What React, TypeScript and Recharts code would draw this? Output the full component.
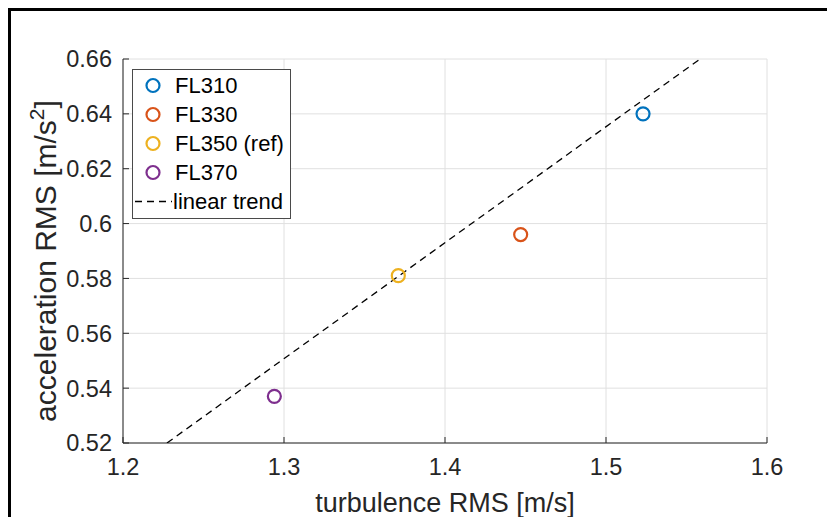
import { ScatterChart, Scatter, XAxis, YAxis, CartesianGrid, Legend } from "recharts";

const xTicks = [1.2, 1.3, 1.4, 1.5, 1.6];
const yTicks = [0.52, 0.54, 0.56, 0.58, 0.6, 0.62, 0.64, 0.66];

const seriesNames = ["FL310", "FL330", "FL350 (ref)", "FL370"];
const seriesColors = ["#0072BD", "#D95319", "#EDB120", "#7E2F8E"];
const turbulenceRms = [1.523, 1.447, 1.371, 1.294];
const accelerationRms = [0.64, 0.596, 0.581, 0.537];

const trendX = [1.2273, 1.5584];
const trendY = [0.52, 0.66];

const FONT = "'Liberation Sans', Arial, sans-serif";
const AXIS = "#262626";
const TICK = 6;

const series = seriesNames.map((name, i) => ({
  name,
  color: seriesColors[i],
  data: [{ x: turbulenceRms[i], y: accelerationRms[i] }],
}));
const trendData = trendX.map((x, i) => ({ x, y: trendY[i] }));

const ring = (color: string) => (p: any) => (
  <circle cx={p.cx} cy={p.cy} r={6.5} fill="none" stroke={color} strokeWidth={2.2} />
);

const BottomTick = (p: any) => (
  <g>
    <line x1={p.x} x2={p.x} y1={p.y} y2={p.y - TICK} stroke={AXIS} />
    <text x={p.x} y={p.y + 32} textAnchor="middle" fontSize={23.5} fill={AXIS} fontFamily={FONT}>
      {p.payload.value}
    </text>
  </g>
);

const LeftTick = (p: any) => (
  <g>
    <line x1={p.x} x2={p.x + TICK} y1={p.y} y2={p.y} stroke={AXIS} />
    <text x={p.x - 11} y={p.y} dy="0.36em" textAnchor="end" fontSize={23.5} fill={AXIS} fontFamily={FONT}>
      {p.payload.value}
    </text>
  </g>
);

const TopTick = (p: any) => <line x1={p.x} x2={p.x} y1={p.y} y2={p.y + TICK} stroke={AXIS} />;
const RightTick = (p: any) => <line x1={p.x} x2={p.x - TICK} y1={p.y} y2={p.y} stroke={AXIS} />;

const XLabel = (p: any) => {
  const vb = p.viewBox;
  return (
    <text x={vb.x + vb.width / 2} y={vb.y + 69} textAnchor="middle" fontSize={27} fill={AXIS} fontFamily={FONT}>
      turbulence RMS [m/s]
    </text>
  );
};

const YLabel = (p: any) => {
  const vb = p.viewBox;
  const x = vb.x + 45;
  const y = vb.y + vb.height / 2 + 10;
  return (
    <text
      x={x}
      y={y}
      transform={`rotate(-90 ${x} ${y})`}
      textAnchor="middle"
      fontSize={30}
      fill={AXIS}
      fontFamily={FONT}
    >
      acceleration RMS [m/s
      <tspan dy={-12} fontSize={21}>2</tspan>
      <tspan dy={12}>]</tspan>
    </text>
  );
};

const LegendRow = ({ color, label, dashed }: any) => (
  <div style={{ display: "flex", alignItems: "center", height: 29 }}>
    <svg width={40} height={29}>
      {dashed ? (
        <line x1={2} x2={39} y1={14.5} y2={14.5} stroke="#000" strokeWidth={1.3} strokeDasharray="7 5" />
      ) : (
        <circle cx={20} cy={14.5} r={6.5} fill="none" stroke={color} strokeWidth={2.2} />
      )}
    </svg>
    <span style={{ marginLeft: dashed ? 0 : 2, lineHeight: "29px", whiteSpace: "nowrap" }}>{label}</span>
  </div>
);

const LegendBox = () => (
  <div
    style={{
      width: 159,
      boxSizing: "border-box",
      border: "1px solid #4a4a4a",
      background: "#fff",
      padding: "1px 0 2px 0",
      fontFamily: FONT,
      fontSize: 22,
      color: "#000",
    }}
  >
    {series.map((s) => (
      <LegendRow key={s.name} color={s.color} label={s.name} />
    ))}
    <LegendRow dashed label="linear trend" />
  </div>
);

export default function App() {
  return (
    <div
      style={{
        width: 819,
        height: 509,
        boxSizing: "border-box",
        borderTop: "3px solid #000",
        borderLeft: "3px solid #000",
        background: "#fff",
      }}
    >
      <ScatterChart width={816} height={506} margin={{ top: 48, right: 60, bottom: 0, left: 0 }}>
        <CartesianGrid stroke="#e0e0e0" />
        <XAxis
          dataKey="x"
          type="number"
          domain={[1.2, 1.6]}
          ticks={xTicks}
          allowDataOverflow
          height={74}
          tickSize={0}
          tickMargin={0}
          tickLine={false}
          tick={BottomTick}
          axisLine={{ stroke: AXIS }}
          label={<XLabel />}
        />
        <YAxis
          dataKey="y"
          type="number"
          domain={[0.52, 0.66]}
          ticks={yTicks}
          allowDataOverflow
          width={112}
          tickSize={0}
          tickMargin={0}
          tickLine={false}
          tick={LeftTick}
          axisLine={{ stroke: AXIS }}
          label={<YLabel />}
        />
        <XAxis
          xAxisId="top"
          orientation="top"
          type="number"
          domain={[1.2, 1.6]}
          ticks={xTicks}
          allowDataOverflow
          height={0}
          tickSize={0}
          tickMargin={0}
          tickLine={false}
          tick={TopTick}
          axisLine={{ stroke: AXIS }}
        />
        <YAxis
          yAxisId="right"
          orientation="right"
          type="number"
          domain={[0.52, 0.66]}
          ticks={yTicks}
          allowDataOverflow
          width={0}
          tickSize={0}
          tickMargin={0}
          tickLine={false}
          tick={RightTick}
          axisLine={{ stroke: AXIS }}
        />
        <Legend
          layout="vertical"
          align="center"
          verticalAlign="middle"
          wrapperStyle={{ left: 121, top: 58, width: "auto" }}
          content={<LegendBox />}
        />
        <Scatter
          name="linear trend"
          data={trendData}
          line={{ stroke: "#000", strokeWidth: 1.3, strokeDasharray: "7 5" }}
          shape={() => <g />}
          isAnimationActive={false}
        />
        {series.map((s) => (
          <Scatter
            key={s.name}
            name={s.name}
            data={s.data}
            fill={s.color}
            shape={ring(s.color)}
            isAnimationActive={false}
          />
        ))}
      </ScatterChart>
    </div>
  );
}
